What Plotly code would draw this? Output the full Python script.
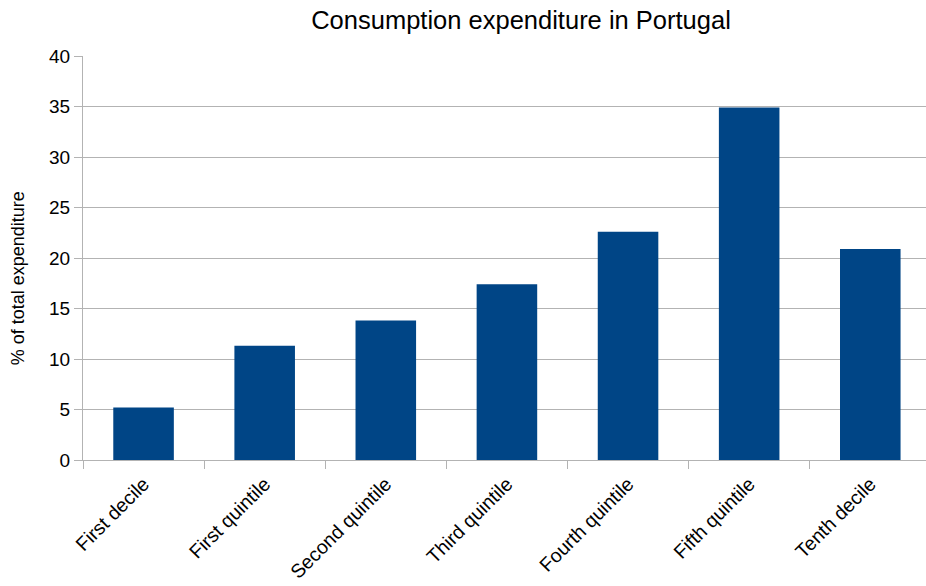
import plotly.graph_objects as go

# Share of total consumption expenditure by income group
groups = ["First decile", "First quintile", "Second quintile", "Third quintile",
          "Fourth quintile", "Fifth quintile", "Tenth decile"]
share_pct = [5.2, 11.3, 13.8, 17.4, 22.6, 34.9, 20.9]

font_family = "Liberation Sans, Arial, sans-serif"
grid_color = "#b3b3b3"

fig = go.Figure(
    go.Bar(
        x=groups,
        y=share_pct,
        marker=dict(color="#004586", line=dict(width=0)),
    )
)

fig.update_layout(
    width=926,
    height=586,
    margin=dict(l=83, r=0, t=56, b=126),
    paper_bgcolor="white",
    plot_bgcolor="white",
    bargap=0.5,
    showlegend=False,
    font=dict(family=font_family, color="#000000"),
    title=dict(
        text="Consumption expenditure in Portugal",
        x=521 / 926,
        xanchor="center",
        y=1 - 20 / 586,
        yanchor="middle",
        font=dict(size=25.5, family=font_family, color="#000000"),
    ),
)

# Vertical axis caption, placed a little below the plot's mid-height
fig.add_annotation(
    text="% of total expenditure",
    textangle=-90,
    xref="paper",
    yref="paper",
    x=-0.077,
    y=0.45,
    xanchor="center",
    yanchor="middle",
    showarrow=False,
    font=dict(size=18, family=font_family, color="#000000"),
)

fig.update_xaxes(
    range=[-0.5, 6.46],
    automargin=False,
    tickangle=-45,
    tickson="boundaries",
    ticks="outside",
    ticklen=8,
    tickcolor=grid_color,
    ticklabelstandoff=4,
    showline=True,
    linecolor=grid_color,
    linewidth=1,
    showgrid=False,
    tickfont=dict(size=19.5, family=font_family, color="#000000"),
)

fig.update_yaxes(
    range=[0, 40],
    dtick=5,
    automargin=False,
    ticks="outside",
    ticklen=8,
    tickcolor=grid_color,
    showline=True,
    linecolor=grid_color,
    linewidth=1,
    showgrid=True,
    gridcolor=grid_color,
    gridwidth=1,
    zeroline=False,
    tickfont=dict(size=19, family=font_family, color="#000000"),
)

fig.write_html("out.html")
